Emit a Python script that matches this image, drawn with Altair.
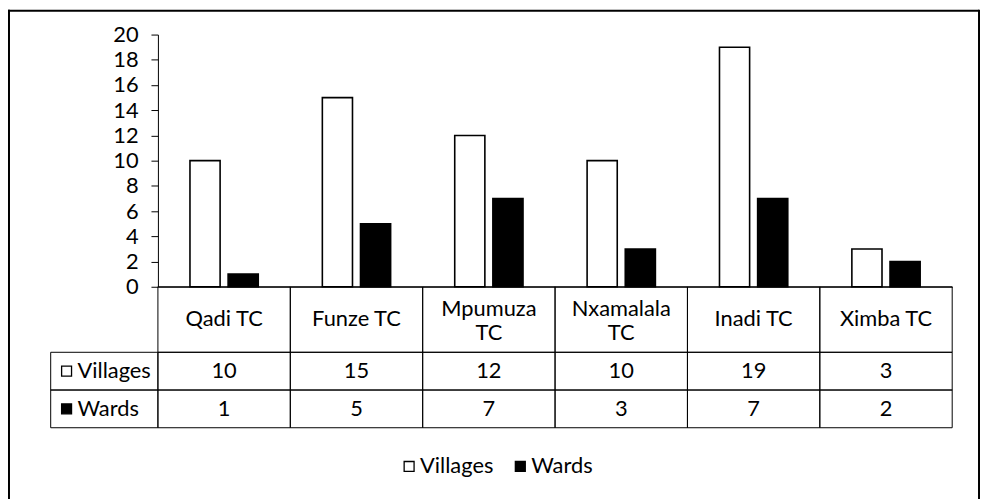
import altair as alt
import pandas as pd

categories = ["Qadi TC", "Funze TC", "Mpumuza TC", "Nxamalala TC", "Inadi TC", "Ximba TC"]
header_labels = ["Qadi TC", "Funze TC", "Mpumuza\nTC", "Nxamalala\nTC", "Inadi TC", "Ximba TC"]
series = ["Villages", "Wards"]
villages = [10, 15, 12, 10, 19, 3]
wards = [1, 5, 7, 3, 7, 2]
y_ticks = list(range(0, 21, 2))

rows = []
for s, vals in zip(series, [villages, wards]):
    for c, v in zip(categories, vals):
        rows.append({"category": c, "series": s, "value": v})
df = pd.DataFrame(rows)
hdr = pd.DataFrame({"category": categories, "label": header_labels})
ser = pd.DataFrame({"series": series})

FONT = "Lato"
FS = 22
W, H = 800, 254

x_enc = alt.X(
    "category:N", sort=categories,
    scale=alt.Scale(domain=categories, paddingInner=0, paddingOuter=0),
    axis=alt.Axis(labels=False, ticks=False, domain=True, title=None,
                  domainColor="black", domainWidth=1, grid=False),
)


def row_y():
    return alt.Y("series:N", sort=series,
                 scale=alt.Scale(domain=series, range=[320, 396], paddingInner=0, paddingOuter=0),
                 axis=None)


fill_enc = alt.Fill(
    "series:N", sort=series,
    scale=alt.Scale(domain=series, range=["white", "black"]),
    legend=alt.Legend(
        orient="none", legendX=242, legendY=424, direction="horizontal", title=None,
        symbolType="square", symbolSize=100, symbolStrokeColor="black", symbolStrokeWidth=1.3,
        labelFont=FONT, labelFontSize=FS, labelColor="black", columnPadding=16,
        labelOffset=0, padding=0,
    ),
)

bars = alt.Chart(df).mark_bar(stroke="black", strokeWidth=1.6).encode(
    x=x_enc,
    xOffset=alt.XOffset("series:N", sort=series,
                        scale=alt.Scale(domain=series, paddingInner=0.21, paddingOuter=0.84)),
    y=alt.Y("value:Q", scale=alt.Scale(domain=[0, 20], nice=False),
            axis=alt.Axis(values=y_ticks, tickSize=7, tickColor="black", tickWidth=1,
                          domainColor="black", domainWidth=1, labelFont=FONT, labelFontSize=FS,
                          labelColor="black", labelPadding=13, grid=False, title=None,
                          labelFlush=False, labelOverlap=False)),
    fill=fill_enc,
)

header_cells = alt.Chart(hdr).mark_rect(filled=False, stroke="black", strokeWidth=1).encode(
    x=x_enc, y=alt.value(254), y2=alt.value(320),
)
header_text_1 = alt.Chart(hdr).transform_filter(
    "indexof(datum.label, '\\n') < 0"
).mark_text(
    font=FONT, fontSize=FS, color="black", baseline="middle", align="center",
).encode(x=x_enc, y=alt.value(287), text="label:N")
header_text_2 = alt.Chart(hdr).transform_filter(
    "indexof(datum.label, '\\n') >= 0"
).mark_text(
    font=FONT, fontSize=FS, color="black", lineBreak="\n", lineHeight=25,
    baseline="middle", align="center", dy=-11,
).encode(x=x_enc, y=alt.value(287), text="label:N")

data_cells = alt.Chart(df).mark_rect(filled=False, stroke="black", strokeWidth=1).encode(
    x=x_enc, y=row_y(),
)
data_text = alt.Chart(df).mark_text(
    font=FONT, fontSize=FS, color="black", baseline="middle", align="center",
).encode(x=x_enc, y=row_y(), text="value:Q")

label_cells = alt.Chart(ser).mark_rect(filled=False, stroke="black", strokeWidth=1).encode(
    x=alt.value(-108), x2=alt.value(0), y=row_y(),
)
label_text = alt.Chart(ser).mark_text(
    font=FONT, fontSize=FS, color="black", baseline="middle", align="left",
).encode(x=alt.value(-81), y=row_y(), text="series:N")
label_sq = alt.Chart(ser).mark_point(
    shape="square", filled=True, size=100, stroke="black", strokeWidth=1.3, opacity=1,
).encode(
    x=alt.value(-92), y=row_y(),
    fill=alt.condition(alt.datum.series == "Wards", alt.value("black"), alt.value("white")),
)

frame_src = alt.Data(values=[{}])
frame_left = alt.Chart(frame_src).mark_rule(color="black", strokeWidth=2).encode(
    x=alt.value(-150), y=alt.value(-25), y2=alt.value(470))
frame_top = alt.Chart(frame_src).mark_rule(color="black", strokeWidth=2).encode(
    x=alt.value(-151), x2=alt.value(827), y=alt.value(-24))
frame_right = alt.Chart(frame_src).mark_rule(color="black", strokeWidth=2).encode(
    x=alt.value(827), y=alt.value(-25), y2=alt.value(470))

chart = alt.layer(
    bars, header_cells, header_text_1, header_text_2, data_cells, data_text,
    label_cells, label_text, label_sq, frame_left, frame_top, frame_right,
).resolve_scale(y="independent").properties(
    width=W, height=H,
    autosize=alt.AutoSizeParams(type="none"),
    padding={"left": 151, "top": 25, "right": 28, "bottom": 212},
    background="white",
).configure_view(stroke=None)

chart.save("out.html", embed_options={"renderer": "svg", "actions": False})
